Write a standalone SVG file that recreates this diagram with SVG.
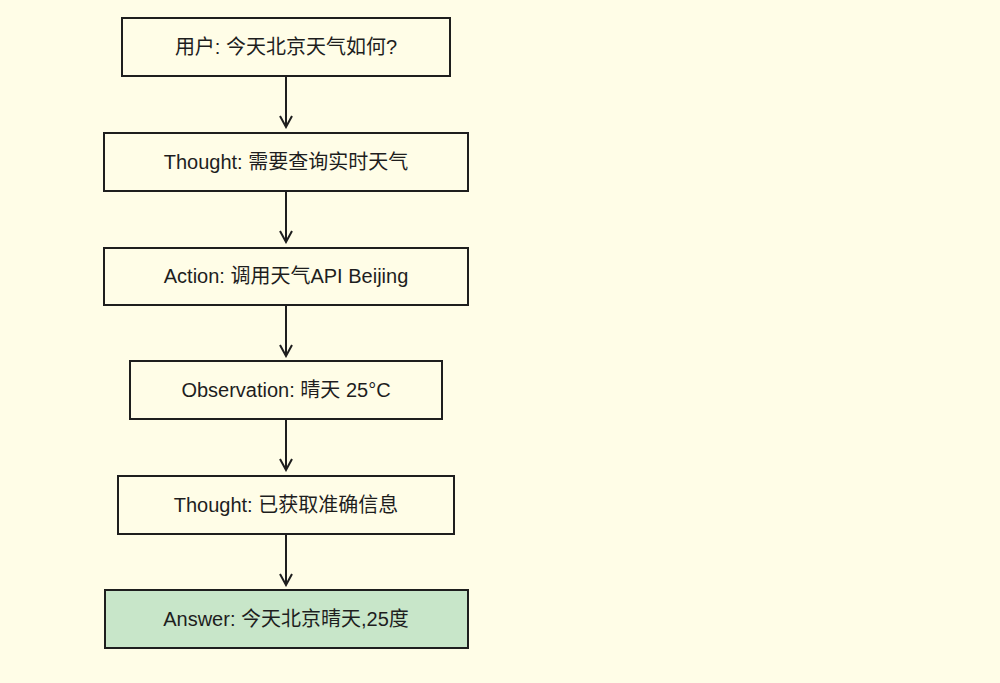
<svg xmlns="http://www.w3.org/2000/svg" width="1000" height="683" viewBox="0 0 1000 683">
<style>
.n rect{fill:none;stroke:#1e1e1e;stroke-width:2}
.n text{font-family:"Liberation Sans","Noto Sans CJK SC",sans-serif;font-size:20px;fill:#1e1e1e;text-anchor:middle;dominant-baseline:central}
#edges line{stroke:#1e1e1e;stroke-width:2}
</style>
<defs><marker id="a" markerWidth="14" markerHeight="14" refX="12" refY="7" orient="auto" markerUnits="userSpaceOnUse"><path d="M1,1 L12,7 L1,13" fill="none" stroke="#1e1e1e" stroke-width="2"/></marker></defs>
<rect width="1000" height="683" fill="#fffde7"/>
<g id="edges">
<line x1="286" y1="77" x2="286" y2="127" marker-end="url(#a)"/>
<line x1="286" y1="192" x2="286" y2="242" marker-end="url(#a)"/>
<line x1="286" y1="306" x2="286" y2="356" marker-end="url(#a)"/>
<line x1="286" y1="420" x2="286" y2="470" marker-end="url(#a)"/>
<line x1="286" y1="535" x2="286" y2="585" marker-end="url(#a)"/>
</g>
<g id="n1" class="n"><rect x="122" y="18" width="328" height="58"/><text x="286" y="47">用户: 今天北京天气如何?</text></g>
<g id="n2" class="n"><rect x="104" y="133" width="364" height="58"/><text x="286" y="162">Thought: 需要查询实时天气</text></g>
<g id="n3" class="n"><rect x="104" y="248" width="364" height="57"/><text x="286" y="276">Action: 调用天气API Beijing</text></g>
<g id="n4" class="n"><rect x="130" y="361" width="312" height="58"/><text x="286" y="390">Observation: 晴天 25°C</text></g>
<g id="n5" class="n"><rect x="118" y="476" width="336" height="58"/><text x="286" y="505">Thought: 已获取准确信息</text></g>
<g id="n6" class="n"><rect x="105" y="590" width="363" height="58" style="fill:#c8e6c9"/><text x="286" y="619">Answer: 今天北京晴天,25度</text></g>
</svg>
